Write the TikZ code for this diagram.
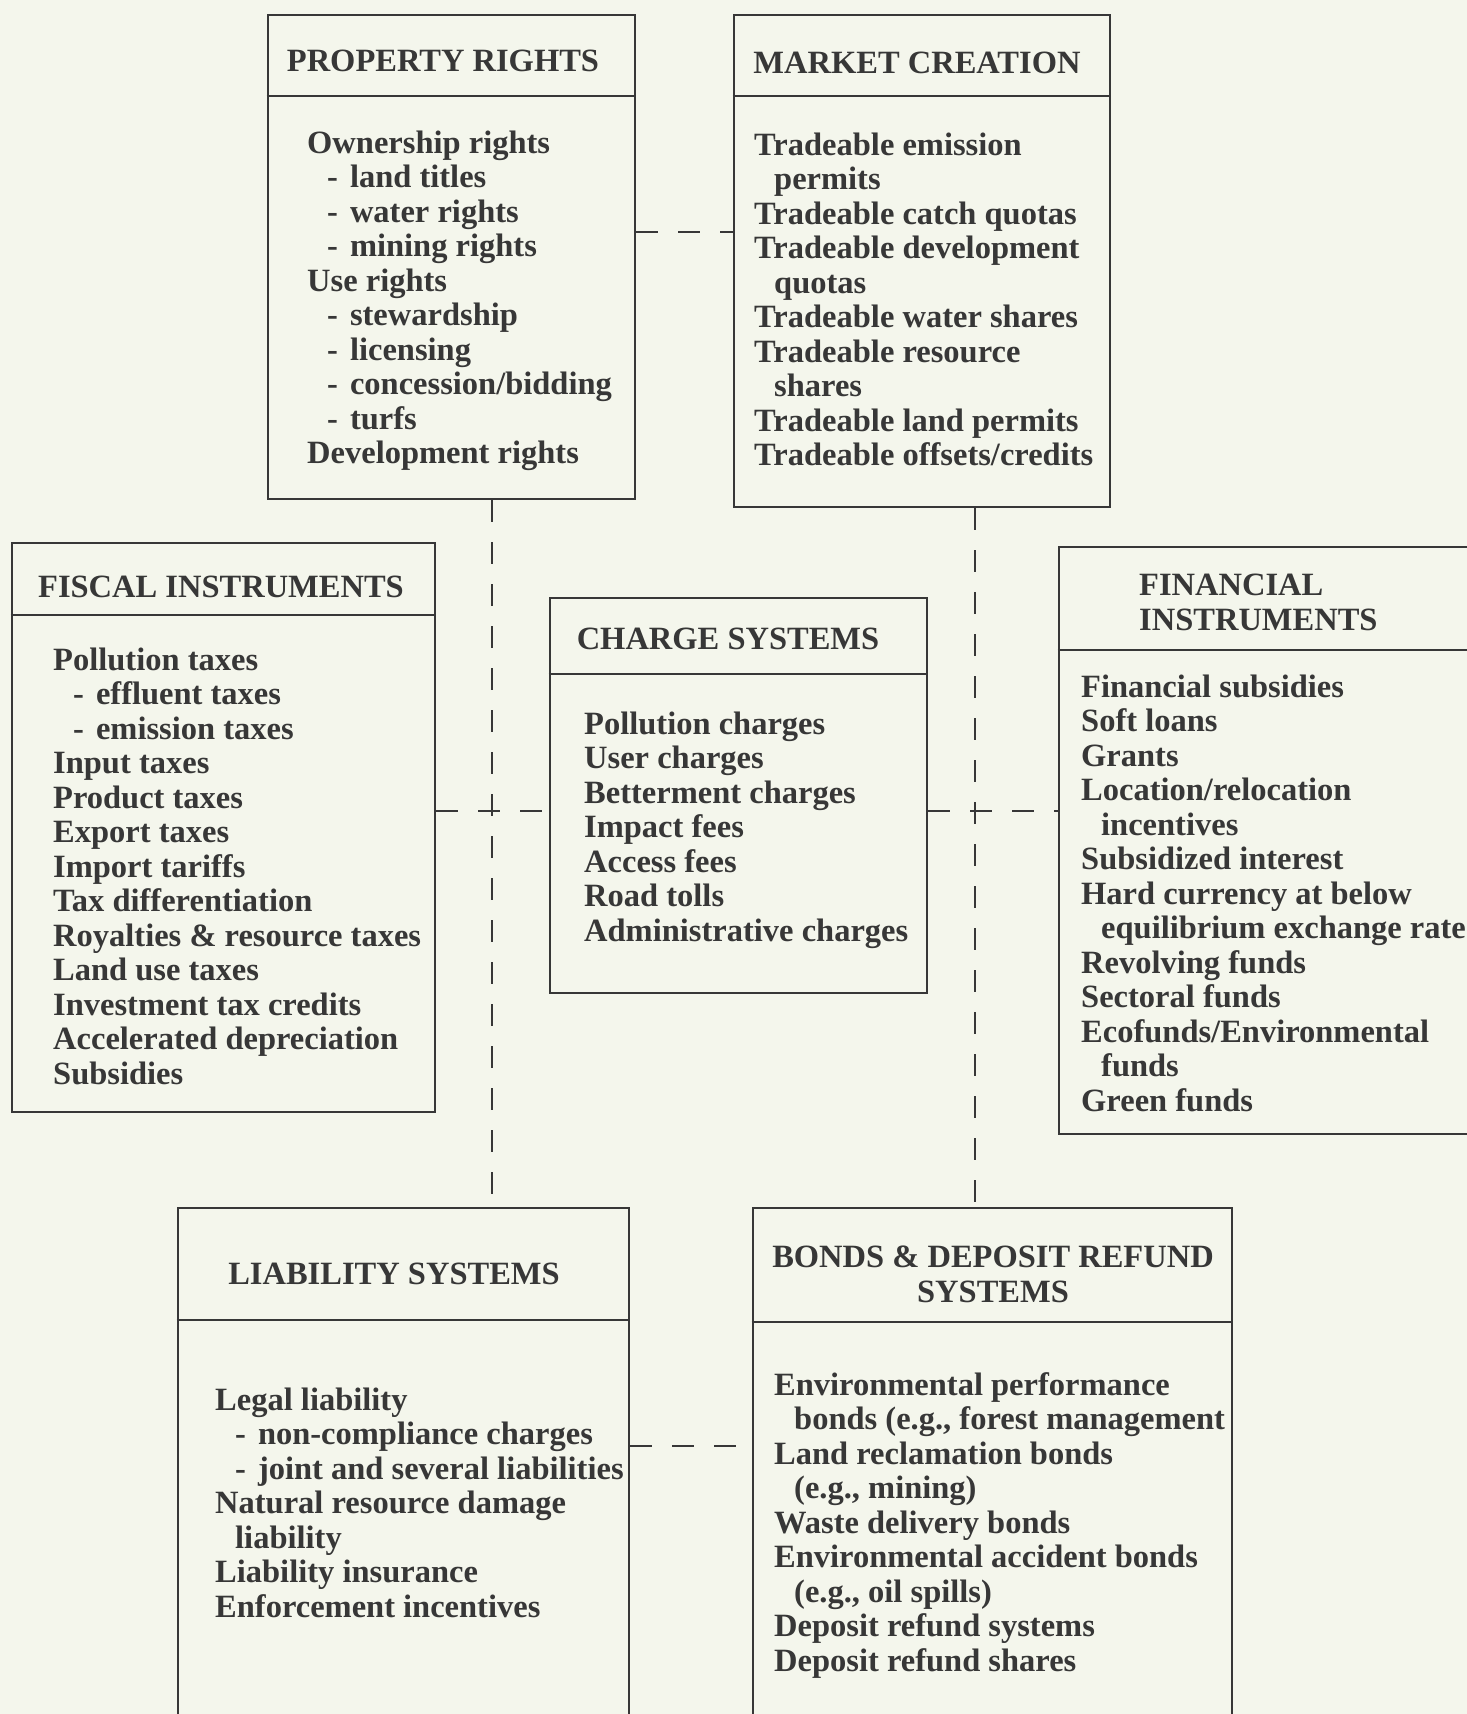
\documentclass[tikz,border=0pt]{standalone}
\usepackage{fontspec}
\setmainfont{Liberation Serif}
\definecolor{paper}{RGB}{244,246,236}
\definecolor{ink}{RGB}{55,55,55}
\newcommand{\subit}[1]{\hspace*{20pt}-\hspace{12pt}#1}
\newcommand{\contd}[1]{\hspace*{20pt}#1}
\begin{document}
\begin{tikzpicture}[x=1pt,y=-1pt,
  box/.style={draw=ink,line width=2.6pt,inner sep=0pt},
  head/.style={text=ink,inner sep=0pt,align=center,font=\bfseries\fontsize{32.5}{35}\selectfont},
  item/.style={text=ink,inner sep=0pt,anchor=base west,font=\bfseries\fontsize{32.5}{34.5}\selectfont},
  link/.style={draw=ink,line width=2pt,dash pattern=on 22pt off 20pt}]
\def\dy{34.5}
\useasboundingbox (0,0) rectangle (1467,1714);
\clip (0,0) rectangle (1467,1714);
\fill[paper] (0,0) rectangle (1467,1714);

% boxes
\node[box,minimum width=367pt,minimum height=484pt] (pr) at (451.5,257) {};
\node[box,minimum width=376pt,minimum height=492pt] (mc) at (922,261) {};
\node[box,minimum width=423pt,minimum height=569pt] (fis) at (223.5,827.5) {};
\node[box,minimum width=377pt,minimum height=395pt] (chg) at (738.5,795.5) {};
\node[box,minimum width=441pt,minimum height=587pt] (fin) at (1279.5,840.5) {};
\node[box,minimum width=451pt,minimum height=532pt] (liab) at (403.5,1474) {};
\node[box,minimum width=479pt,minimum height=532pt] (bnd) at (992.5,1474) {};
\foreach \b/\y in {pr/96,mc/96,fis/615,chg/674,fin/650,liab/1320,bnd/1322}
  \draw[ink,line width=2.6pt] (\b.west |- 0,\y) -- (\b.east |- 0,\y);

% headings
\node[head] (prT) at (443,61) {PROPERTY RIGHTS};
\node[head] (mcT) at (917,63) {MARKET CREATION};
\node[head] (fisT) at (221,587) {FISCAL INSTRUMENTS};
\node[head] (chgT) at (728,639) {CHARGE SYSTEMS};
\node[head,align=left,anchor=west] (finT) at (1139,602) {FINANCIAL\\INSTRUMENTS};
\node[head] (liabT) at (394,1274) {LIABILITY SYSTEMS};
\node[head] (bndT) at (993,1274) {BONDS \& DEPOSIT REFUND\\SYSTEMS};

% lists
\foreach \t [count=\i from 0] in {Ownership rights,\subit{land titles},\subit{water rights},\subit{mining rights},Use rights,\subit{stewardship},\subit{licensing},\subit{concession/bidding},\subit{turfs},Development rights}
  \node[item] (prL\i) at (307,{153+\i*\dy}) {\t};
\foreach \t [count=\i from 0] in {Tradeable emission,\contd{permits},Tradeable catch quotas,Tradeable development,\contd{quotas},Tradeable water shares,Tradeable resource,\contd{shares},Tradeable land permits,Tradeable offsets/credits}
  \node[item] (mcL\i) at (754,{155+\i*\dy}) {\t};
\foreach \t [count=\i from 0] in {Pollution taxes,\subit{effluent taxes},\subit{emission taxes},Input taxes,Product taxes,Export taxes,Import tariffs,Tax differentiation,Royalties \& resource taxes,Land use taxes,Investment tax credits,Accelerated depreciation,Subsidies}
  \node[item] (fisL\i) at (53,{670+\i*\dy}) {\t};
\foreach \t [count=\i from 0] in {Pollution charges,User charges,Betterment charges,Impact fees,Access fees,Road tolls,Administrative charges}
  \node[item] (chgL\i) at (584,{734+\i*\dy}) {\t};
\foreach \t [count=\i from 0] in {Financial subsidies,Soft loans,Grants,Location/relocation,\contd{incentives},Subsidized interest,Hard currency at below,\contd{equilibrium exchange rate},Revolving funds,Sectoral funds,Ecofunds/Environmental,\contd{funds},Green funds}
  \node[item] (finL\i) at (1081,{697+\i*\dy}) {\t};
\foreach \t [count=\i from 0] in {Legal liability,\subit{non-compliance charges},\subit{joint and several liabilities},Natural resource damage,\contd{liability},Liability insurance,Enforcement incentives}
  \node[item] (liabL\i) at (215,{1410+\i*\dy}) {\t};
\foreach \t [count=\i from 0] in {Environmental performance,{\contd{bonds (e.g., forest management}},Land reclamation bonds,{\contd{(e.g., mining)}},Waste delivery bonds,Environmental accident bonds,{\contd{(e.g., oil spills)}},Deposit refund systems,Deposit refund shares}
  \node[item] (bndL\i) at (774,{1395+\i*\dy}) {\t};

% dashed links
\draw[link] (pr.east |- 0,232) -- (mc.west |- 0,232);
\draw[link] (pr.south -| 492,0) -- (liab.north -| 492,0);
\draw[link] (mc.south -| 975,0) -- (bnd.north -| 975,0);
\draw[link] (fis.east |- 0,811) -- (chg.west |- 0,811);
\draw[link] (chg.east |- 0,811) -- (fin.west |- 0,811);
\draw[link] (liab.east |- 0,1446) -- (bnd.west |- 0,1446);
\end{tikzpicture}
\end{document}
